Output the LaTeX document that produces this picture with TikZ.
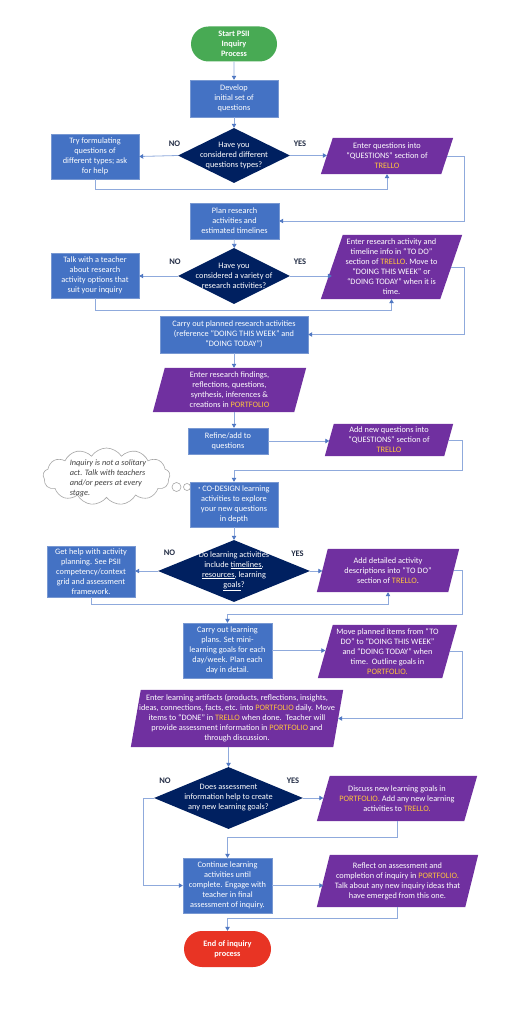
\documentclass[tikz,border=0pt]{standalone}
\usepackage{fontspec}
\setmainfont{Carlito}
\usetikzlibrary{shapes.geometric,shapes.symbols,shapes.misc,arrows.meta,calc}
\pgfdeclarelayer{bg}
\pgfsetlayers{bg,main}
\definecolor{boxblue}{RGB}{68,114,196}
\definecolor{boxedge}{RGB}{120,152,210}
\definecolor{purp}{RGB}{112,48,160}
\definecolor{navy}{RGB}{0,32,96}
\definecolor{startgreen}{RGB}{72,170,84}
\definecolor{endred}{RGB}{232,52,36}
\definecolor{connc}{RGB}{143,170,220}
\definecolor{tipc}{RGB}{80,120,195}
\definecolor{gold}{RGB}{255,196,60}
\definecolor{yncol}{RGB}{36,46,70}
\definecolor{cloudtext}{RGB}{64,64,64}
\newcommand{\yel}[1]{\textcolor{gold}{#1}}
\newcommand{\paraback}[2]{\fill[purp] ($(#1.south west)+(-#2/2,0)$) -- ($(#1.south east)+(-#2/2,0)$) -- ($(#1.north east)+(#2/2,0)$) -- ($(#1.north west)+(#2/2,0)$) -- cycle;}
\begin{document}
\begin{tikzpicture}[x=1pt,y=-1pt,
  txt/.style={text=white,align=center,font=\fontsize{8.3}{10}\selectfont,inner sep=0pt},
  proc/.style 2 args={rectangle,fill=boxblue,draw=boxedge,line width=0.4pt,minimum width=#1,minimum height=#2,inner sep=0.5pt,text=white,align=center,font=\fontsize{8.3}{10}\selectfont},
  pill/.style 2 args={rounded rectangle,minimum width=#1,minimum height=#2,inner sep=1pt,text=white,align=center,font=\bfseries\fontsize{8.3}{10}\selectfont},
  para/.style 2 args={rectangle,draw=none,minimum width=#1,minimum height=#2,inner sep=0pt,text=white,align=center,font=\fontsize{8.3}{10}\selectfont},
  dec/.style 2 args={diamond,fill=navy,draw=none,minimum width=#1,minimum height=#2,inner sep=1pt},
  yn/.style={text=yncol,font=\bfseries\fontsize{8.5}{10}\selectfont,inner sep=0pt},
  arr/.style={draw=connc,line width=0.8pt,-{Triangle[width=4.5pt,length=4pt,color=tipc]}},
  cloudtxt/.style={text=cloudtext,align=left,font=\itshape\fontsize{8.3}{10}\selectfont,inner sep=0pt}
]
\useasboundingbox (0,0) rectangle (514,1024);
\begin{pgfonlayer}{bg}
\fill[white] (0,0) rectangle (514,1024);
\end{pgfonlayer}

\coordinate (rA) at (464,0);
\coordinate (rB) at (462,0);
\coordinate (lC) at (143,0);

% nodes
\node[pill={88pt}{35pt},fill=startgreen] (start) at (234,44) {Start PSII\\Inquiry\\Process};
\node[proc={88pt}{37pt}] (develop) at (234,98.5) {Develop\\initial set of\\questions};
\node[dec={112pt}{55pt},label={[txt]center:{Have you\\considered different\\questions types?}}] (d1) at (234,155.5) {};
\node[proc={88pt}{45pt}] (try) at (95,156.5) {Try formulating\\questions of\\different types; ask\\for help};
\node[para={120pt}{36pt}] (para1) at (387,156) {Enter questions into\\“QUESTIONS” section of\\\yel{TRELLO}};
\node[yn] (no1) at (174.5,144) {NO};
\node[yn] (yes1) at (300,144) {YES};

\node[proc={89pt}{36pt}] (plan) at (234.5,221) {Plan research\\activities and\\estimated timelines};
\node[dec={112pt}{56pt},label={[txt]center:{Have you\\considered a variety of\\research activities?}}] (d2) at (234,276) {};
\node[proc={88pt}{45pt}] (talk) at (95,275.5) {Talk with a teacher\\about research\\activity options that\\suit your inquiry};
\node[para={119pt}{64pt}] (para2) at (391.5,267) {Enter research activity and\\timeline info in “TO DO”\\section of \yel{TRELLO}. Move to\\“DOING THIS WEEK” or\\“DOING TODAY” when it is\\time.};
\node[yn] (no2) at (175,262) {NO};
\node[yn] (yes2) at (300,262) {YES};

\node[proc={148pt}{37pt}] (carry) at (234,334.5) {Carry out planned research activities\\(reference “DOING THIS WEEK” and\\“DOING TODAY”)};
\node[para={141pt}{44pt}] (para3) at (229.5,390) {Enter research findings,\\reflections, questions,\\synthesis, inferences \&\\creations in \yel{PORTFOLIO}};
\node[proc={80pt}{26pt}] (refine) at (228,441) {Refine/add to\\questions};
\node[para={119pt}{32pt}] (para4) at (389,440) {Add new questions into\\“QUESTIONS” section of\\\yel{TRELLO}};

\node[cloud,cloud puffs=13,cloud puff arc=115,aspect=2.3,draw=gray!70,line width=0.6pt,fill=white,minimum width=127pt,minimum height=57pt,inner sep=1pt] (cloud) at (106.5,476.5) {};
\node[cloudtxt] (cloudt) at (108,478) {Inquiry is not a solitary\\act. Talk with teachers\\and/or peers at every\\stage.};
\node[circle,draw=gray!70,line width=0.6pt,fill=white,minimum size=9pt,inner sep=0pt] (c1) at (176.5,487) {};
\node[circle,draw=gray!70,line width=0.6pt,fill=white,minimum size=7pt,inner sep=0pt] (c2) at (187,487) {};

\node[proc={88pt}{45pt}] (codesign) at (234,504.5) {{\fontsize{4}{4}\selectfont\raisebox{2pt}{\textbullet}} CO-DESIGN learning\\activities to explore\\your new questions\\in depth};
\node[dec={152pt}{62pt},label={[txt]center:{Do learning activities\\include \underline{timelines},\\\underline{resources}, learning\\\underline{goals}?}}] (d3) at (234,571) {};
\node[proc={88pt}{51pt}] (gethelp) at (91,571.5) {Get help with activity\\planning. See PSII\\competency/context\\grid and assessment\\framework.};
\node[para={131pt}{43pt}] (para5) at (388,570.5) {Add detailed activity\\descriptions into “TO DO”\\section of \yel{TRELLO}.};
\node[yn] (no3) at (169.5,553) {NO};
\node[yn] (yes3) at (297.5,554) {YES};

\node[proc={89pt}{55pt}] (carrylearn) at (227.5,650.5) {Carry out learning\\plans. Set mini-\\learning goals for each\\day/week. Plan each\\day in detail.};
\node[para={124pt}{53pt}] (para6) at (387.5,651.5) {Move planned items from “TO\\DO” to “DOING THIS WEEK”\\and “DOING TODAY” when\\time.\ \ Outline goals in\\\yel{PORTFOLIO.}};
\node[para={202pt}{57pt}] (para7) at (237,718.5) {Enter learning artifacts (products, reflections, insights,\\ideas, connections, facts, etc. into \yel{PORTFOLIO} daily. Move\\items to “DONE” in \yel{TRELLO} when done.\ \ Teacher will\\provide assessment information in \yel{PORTFOLIO} and\\through discussion.};

\node[dec={149pt}{62pt},label={[txt]center:{Does assessment\\information help to create\\any new learning goals?}}] (d4) at (228.5,798) {};
\node[yn] (no4) at (165,781) {NO};
\node[yn] (yes4) at (293,781) {YES};
\node[para={147pt}{45pt}] (discuss) at (397,798.5) {Discuss new learning goals in\\\yel{PORTFOLIO.} Add any new learning\\activities to \yel{TRELLO.}};
\node[proc={89pt}{55pt}] (continue) at (227.5,885.5) {Continue learning\\activities until\\complete. Engage with\\teacher in final\\assessment of inquiry.};
\node[para={148pt}{52pt}] (reflect) at (397.5,881) {Reflect on assessment and\\completion of inquiry in \yel{PORTFOLIO.}\\Talk about any new inquiry ideas that\\have emerged from this one.};
\node[pill={89pt}{36pt},fill=endred] (end) at (227.5,949) {End of inquiry\\process};

% parallelogram fills
\begin{pgfonlayer}{bg}
\paraback{para1}{12}
\paraback{para2}{22}
\paraback{para3}{12}
\paraback{para4}{9}
\paraback{para5}{11}
\paraback{para6}{15}
\paraback{para7}{10}
\paraback{discuss}{13}
\paraback{reflect}{13}
\end{pgfonlayer}

% connectors
\draw[arr] (start) -- (develop);
\draw[arr] (develop) -- (d1);
\draw[arr] (d1.west) -- (try.east);
\draw[arr] (d1.east) -- (d1.east -| para1.west);
\draw[arr] (try.south) -- ++(0,10) -| (para1.south);
\draw[arr] (para1.east) -| (rA |- plan.east) -- (plan.east);

\draw[arr] (plan) -- (d2);
\draw[arr] (d2.west) -- (d2.west -| talk.east);
\draw[arr] (d2.east) -- (d2.east -| para2.west);
\draw[arr] (talk.south) -- ++(0,12) -| (para2.south);
\draw[arr] (para2.east) -| (rA |- carry.east) -- (carry.east);

\draw[arr] (carry.south) -- (carry.south |- para3.north);
\draw[arr] (carry.south |- para3.south) -- (carry.south |- refine.north);
\draw[arr] (refine.east) -- (refine.east -| para4.west);
\draw[arr] (para4.east) -| (rB |- 0,470) -| (codesign.north);

\draw[arr] (codesign) -- (d3);
\draw[arr] (d3.west) -- (d3.west -| gethelp.east);
\draw[arr] (d3.east) -- (d3.east -| para5.west);
\draw[arr] (gethelp.south) -- ++(0,7) -| (para5.south);
\draw[arr] (para5.east) -| (rB |- 0,614) -| (carrylearn.north);

\draw[arr] (carrylearn.east) -- (carrylearn.east -| para6.west);
\draw[arr] (para6.east) -| (rB |- para7.east) -- (para7.east);
\draw[arr] (d4.north |- para7.south) -- (d4.north);

\draw[arr] (d4.east) -- (d4.east -| discuss.west);
\draw[arr] (d4.west) -| (lC |- continue.west) -- (continue.west);
\draw[arr] (discuss.south) -- ++(0,16) -| (continue.north);
\draw[arr] (continue.east) -- (continue.east -| reflect.west);
\draw[arr] (reflect.south) -- ++(0,11) -| (end.north);
\end{tikzpicture}
\end{document}
